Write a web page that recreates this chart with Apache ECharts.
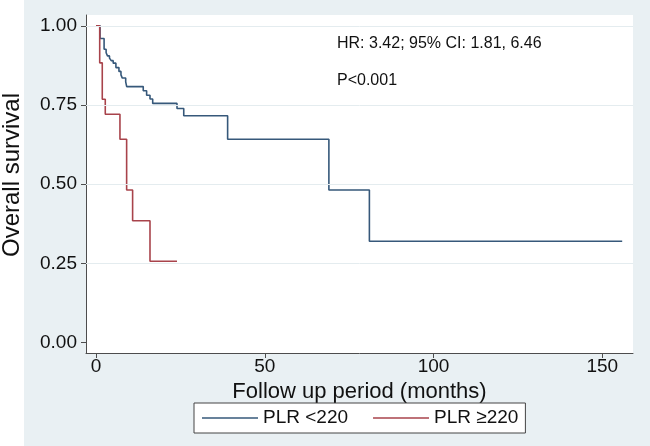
<!DOCTYPE html>
<html>
<head>
<meta charset="utf-8">
<script src="https://cdn.jsdelivr.net/npm/echarts@6/dist/echarts.min.js"></script>
<style>
html,body{margin:0;padding:0;background:#ffffff;}
#c{width:650px;height:446px;}
</style>
</head>
<body>
<div id="c"></div>
<script>
// ---- data ----
const seriesNames = ['PLR <220', 'PLR \u2265220'];
const lowTimes = [0, 1.2, 2.4, 3.0, 3.4, 4.0, 4.5, 5.1, 5.9, 6.8, 7.4, 7.8, 8.8, 9.1, 14.0, 15.0, 16.0, 16.8, 24.0, 26.0, 39.0, 69.0, 81.0, 155.9];
const lowSurv  = [1.0, 0.960, 0.926, 0.915, 0.905, 0.898, 0.890, 0.882, 0.868, 0.856, 0.845, 0.835, 0.823, 0.808, 0.795, 0.781, 0.769, 0.755, 0.739, 0.716, 0.642, 0.482, 0.320, 0.320];
const highTimes = [0, 1.1, 1.86, 2.75, 7.1, 9.08, 10.85, 16.0, 24.0];
const highSurv  = [1.0, 0.883, 0.768, 0.721, 0.642, 0.482, 0.385, 0.257, 0.257];
const xTicks = [0, 50, 100, 150];
const yTicks = [0, 0.25, 0.5, 0.75, 1];
const gridLines = [0.25, 0.5, 0.75, 1];
const annotations = ['HR: 3.42; 95% CI: 1.81, 6.46', 'P<0.001'];
const xTitle = 'Follow up period (months)';
const yTitle = 'Overall survival';

const FONT = '"Liberation Sans", Arial, Helvetica, sans-serif';
const pairs = (t, s) => t.map((v, i) => [v, s[i]]);

const chart = echarts.init(document.getElementById('c'), null, {renderer: 'canvas'});
chart.setOption({
  animation: false,
  backgroundColor: '#ffffff',
  textStyle: {fontFamily: FONT},
  graphic: [
    {type: 'rect', z: -10, silent: true, shape: {x: 24, y: 0, width: 626, height: 446}, style: {fill: '#e9f0f3'}},
    {type: 'text', left: 337, top: 36, z: 10, style: {text: annotations[0], font: '16px ' + FONT, fill: '#111'}},
    {type: 'text', left: 337, top: 73, z: 10, style: {text: annotations[1], font: '16px ' + FONT, fill: '#111'}}
  ],
  grid: {left: 86, top: 15, right: 17, bottom: 93, show: true, backgroundColor: '#ffffff', borderWidth: 0,
    containLabel: false, outerBoundsMode: 'none'},
  legend: {
    data: seriesNames,
    left: 194, top: 403,
    orient: 'horizontal',
    icon: 'rect',
    itemWidth: 56, itemHeight: 1.5,
    itemGap: 25,
    padding: [5, 7, 5, 8],
    backgroundColor: '#ffffff',
    borderColor: '#444',
    borderWidth: 1,
    borderRadius: 0,
    textStyle: {fontSize: 19, color: '#111', fontFamily: FONT, lineHeight: 20}
  },
  xAxis: {
    type: 'value', min: -2.96, max: 159.1,
    name: xTitle, nameLocation: 'middle', nameGap: 23,
    nameTextStyle: {fontSize: 22, color: '#111', fontFamily: FONT},
    axisLine: {show: true, onZero: false, lineStyle: {color: '#4d4d4d', width: 1}},
    axisTick: {show: true, length: 5, customValues: xTicks, lineStyle: {color: '#4d4d4d'}},
    axisLabel: {customValues: xTicks, fontSize: 19, color: '#111', margin: 4, fontFamily: FONT},
    splitLine: {show: false}
  },
  yAxis: {
    type: 'value', min: -0.0325, max: 1.034,
    name: yTitle, nameLocation: 'middle', nameGap: 62, nameRotate: 90,
    nameTextStyle: {fontSize: 24, color: '#111', fontFamily: FONT, padding: [0, 0, 0, 18]},
    axisLine: {show: true, onZero: false, lineStyle: {color: '#4d4d4d', width: 1}},
    axisTick: {show: true, length: 5, customValues: yTicks, lineStyle: {color: '#4d4d4d'}},
    axisLabel: {customValues: yTicks, fontSize: 19, color: '#111', margin: 9, fontFamily: FONT,
      formatter: v => v.toFixed(2)},
    splitLine: {show: false}
  },
  series: [
    {
      name: '_grid', type: 'line', data: [], z: 1, silent: true,
      markLine: {silent: true, symbol: 'none', label: {show: false},
        lineStyle: {color: '#e4ecef', type: 'solid', width: 1},
        data: gridLines.map(v => ({yAxis: v}))}
    },
    {
      name: seriesNames[0], type: 'line', step: 'end', showSymbol: false, z: 3,
      color: '#36587a', lineStyle: {width: 1.6, color: '#36587a'},
      data: pairs(lowTimes, lowSurv)
    },
    {
      name: seriesNames[1], type: 'line', step: 'end', showSymbol: false, z: 4,
      color: '#a8434b', lineStyle: {width: 1.6, color: '#a8434b'},
      data: pairs(highTimes, highSurv)
    }
  ]
});
</script>
</body>
</html>
